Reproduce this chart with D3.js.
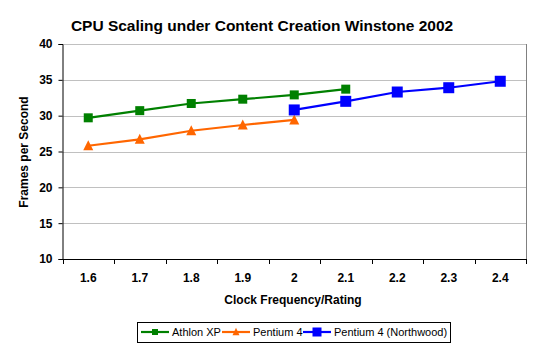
<!DOCTYPE html>
<html>
<head>
<meta charset="utf-8">
<script src="https://cdn.jsdelivr.net/npm/d3@7"></script>
<style>
  body { margin: 0; background: #fff; }
  svg text { font-family: "Liberation Sans", Arial, sans-serif; }
</style>
</head>
<body>
<svg id="chart" width="542" height="352"></svg>
<script>
const clocks = ["1.6", "1.7", "1.8", "1.9", "2", "2.1", "2.2", "2.3", "2.4"];
const athlonXP = [29.7, 30.7, 31.7, 32.3, 32.9, 33.7, null, null, null];
const pentium4 = [25.8, 26.7, 27.9, 28.7, 29.4, null, null, null, null];
const northwood = [null, null, null, null, 30.8, 32.0, 33.3, 33.9, 34.8];
const yTicks = [10, 15, 20, 25, 30, 35, 40];

const series = [
    { name: "Athlon XP", values: athlonXP, color: "#008000", shape: "square", size: 9, legendSize: 6 },
    { name: "Pentium 4", values: pentium4, color: "#FF6600", shape: "triangle", size: 10, legendSize: 7 },
    { name: "Pentium 4 (Northwood)", values: northwood, color: "#0000FF", shape: "square", size: 11, legendSize: 9 }
];

let svg = d3.select("#chart");
let plot = { left: 62.5, right: 526, top: 44, bottom: 259 };

let xScale = d3.scaleBand()
    .domain(clocks)
    .range([plot.left, plot.right]);

let yScale = d3.scaleLinear()
    .domain([10, 40])
    .range([plot.bottom, plot.top]);

// gridlines
svg.selectAll(".grid")
    .data(yTicks.slice(1))
    .enter()
    .append("line")
    .attr("x1", plot.left)
    .attr("x2", plot.right)
    .attr("y1", d => Math.round(yScale(d)) + 0.5)
    .attr("y2", d => Math.round(yScale(d)) + 0.5)
    .attr("stroke", "#c0c0c0")
    .attr("stroke-width", 1);

// plot border (right side)
svg.append("line")
    .attr("x1", plot.right + 0.5).attr("x2", plot.right + 0.5)
    .attr("y1", plot.top).attr("y2", plot.bottom)
    .attr("stroke", "#808080");

// y axis
let yAxis = svg.append("g")
    .attr("transform", "translate(" + plot.left + ",0)")
    .call(d3.axisLeft(yScale).tickValues(yTicks).tickSize(4).tickPadding(6));
yAxis.selectAll("text")
    .style("font-size", "12px")
    .style("font-weight", "bold")
    .style("fill", "#000");
yAxis.selectAll("line, path").attr("stroke", "#000");

// x axis
let xAxis = svg.append("g")
    .attr("transform", "translate(0," + plot.bottom + ")")
    .call(d3.axisBottom(xScale).tickSize(0).tickPadding(14));
xAxis.select(".domain").attr("stroke", "#000").attr("d", "M" + plot.left + ",0.5H" + (plot.right + 1));
xAxis.selectAll("text")
    .style("font-size", "12px")
    .style("font-weight", "bold")
    .style("fill", "#000");
// x tick marks between categories
let boundaries = clocks.map(c => xScale(c)).concat([plot.right]);
svg.selectAll(".xTick")
    .data(boundaries)
    .enter()
    .append("line")
    .attr("x1", d => Math.round(d) + 0.5)
    .attr("x2", d => Math.round(d) + 0.5)
    .attr("y1", plot.bottom)
    .attr("y2", plot.bottom + 5)
    .attr("stroke", "#000");

function drawMarker(g, shape, size, color) {
    if (shape == "square") {
        g.append("rect")
            .attr("x", -size / 2)
            .attr("y", -size / 2)
            .attr("width", size)
            .attr("height", size)
            .attr("fill", color);
    } else {
        let h = size * 0.9;
        g.append("path")
            .attr("d", "M0," + (-h / 2 - 1) + "L" + (size / 2) + "," + (h / 2) + "L" + (-size / 2) + "," + (h / 2) + "Z")
            .attr("fill", color);
    }
}

// lines and markers
for (let s of series) {
    let pts = clocks.map((c, i) => ({ x: c, y: s.values[i] })).filter(d => d.y != null);
    let line = d3.line()
        .x(d => xScale(d.x) + xScale.bandwidth() / 2)
        .y(d => yScale(d.y));
    svg.append("path")
        .datum(pts)
        .attr("d", line)
        .attr("fill", "none")
        .attr("stroke", s.color)
        .attr("stroke-width", 2.2);
    for (let p of pts) {
        let g = svg.append("g")
            .attr("transform", "translate(" + (xScale(p.x) + xScale.bandwidth() / 2) + "," + yScale(p.y) + ")");
        drawMarker(g, s.shape, s.size, s.color);
    }
}

// title
svg.append("text")
    .attr("x", 262)
    .attr("y", 31)
    .text("CPU Scaling under Content Creation Winstone 2002")
    .style("font-weight", "bold")
    .style("font-size", "15.5px")
    .style("text-anchor", "middle");

// axis titles
svg.append("text")
    .attr("x", 293)
    .attr("y", 304)
    .text("Clock Frequency/Rating")
    .style("font-weight", "bold")
    .style("font-size", "12px")
    .style("text-anchor", "middle");

svg.append("text")
    .attr("transform", "translate(28,152) rotate(-90)")
    .text("Frames per Second")
    .style("font-weight", "bold")
    .style("font-size", "12px")
    .style("text-anchor", "middle");

// legend
svg.append("rect")
    .attr("x", 137.5)
    .attr("y", 322.5)
    .attr("width", 313)
    .attr("height", 20)
    .attr("fill", "#fff")
    .attr("stroke", "#000");

let legendX = [141, 222, 303];
series.forEach((s, i) => {
    let g = svg.append("g").attr("transform", "translate(" + legendX[i] + ",332)");
    g.append("line")
        .attr("x1", 0).attr("x2", 28)
        .attr("y1", 0).attr("y2", 0)
        .attr("stroke", s.color)
        .attr("stroke-width", 2.2);
    let m = g.append("g").attr("transform", "translate(14,0)");
    drawMarker(m, s.shape, s.legendSize, s.color);
    g.append("text")
        .attr("x", 31)
        .attr("y", 4)
        .text(s.name)
        .style("font-size", "11px");
});
</script>
</body>
</html>
